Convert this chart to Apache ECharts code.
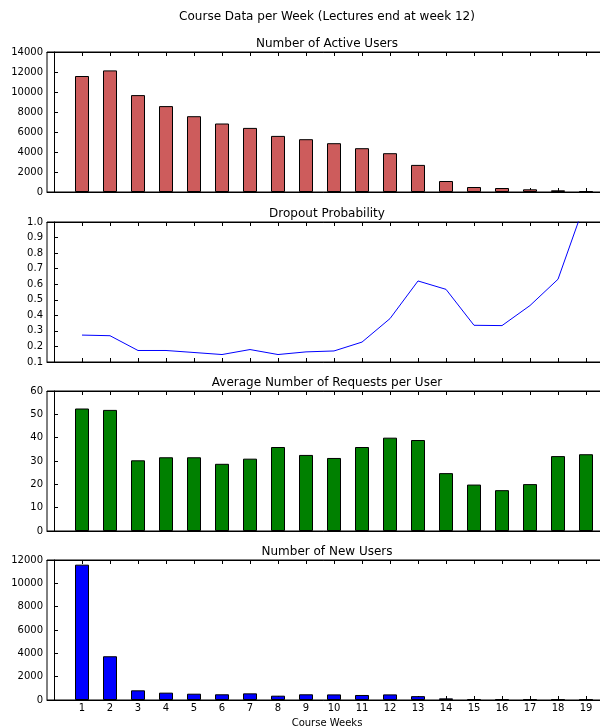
<!DOCTYPE html>
<html>
<head>
<meta charset="utf-8">
<script src="https://cdn.jsdelivr.net/npm/echarts@6/dist/echarts.min.js"></script>
<style>html,body{margin:0;padding:0;background:#fff}#c{width:600px;height:726px}</style>
</head>
<body>
<div id="c"></div>
<script>
const weeks = [1,2,3,4,5,6,7,8,9,10,11,12,13,14,15,16,17,18,19];
const activeUsers = [11600,12160,9690,8590,7580,6850,6410,5610,5280,4880,4380,3880,2710,1100,500,400,270,170,70];
const dropoutProb = [0.273,0.269,0.174,0.174,0.161,0.148,0.18,0.148,0.165,0.171,0.228,0.379,0.621,0.567,0.336,0.334,0.463,0.632,1.14];
const requestsPerUser = [52.5,51.9,30.3,31.6,31.6,28.8,31.0,36.0,32.6,31.3,36.0,40.0,39.0,24.8,19.9,17.5,20.1,32.1,32.9];
const newUsers = [11600,3750,830,630,540,490,570,370,490,480,430,480,330,140,80,60,50,50,50];
const mainTitle = 'Course Data per Week (Lectures end at week 12)';
const panelTitles = ['Number of Active Users','Dropout Probability','Average Number of Requests per User','Number of New Users'];
const xName = 'Course Weeks';

const font = 'DejaVu Sans';
const tops = [52, 222, 391, 560];
const H = 140;
const L = 47, W = 560;
const cx = L + W / 2;

const grids = tops.map(t => ({left: L, top: t, width: W, height: H, show: true, borderColor: '#000', borderWidth: 1, containLabel: false, outerBoundsMode: 'none'}));

const xAxes = [];
tops.forEach((t, i) => {
  xAxes.push({
    type: 'value', gridIndex: i, position: 'bottom', min: -0.25, max: 19.75,
    axisLine: {show: true, lineStyle: {color: '#000', width: 1}},
    axisTick: {show: true, inside: true, length: 4, customValues: weeks, lineStyle: {color: '#000'}},
    axisLabel: {show: i === 3, customValues: weeks, color: '#000', fontFamily: font, fontSize: 10, margin: 3},
    splitLine: {show: false},
    name: i === 3 ? xName : '', nameLocation: 'middle', nameGap: 18,
    nameTextStyle: {color: '#000', fontFamily: font, fontSize: 10}
  });
  xAxes.push({
    type: 'value', gridIndex: i, position: 'top', min: -0.25, max: 19.75,
    axisLine: {show: true, lineStyle: {color: '#000', width: 1}},
    axisTick: {show: true, inside: true, length: 4, customValues: weeks, lineStyle: {color: '#000'}},
    axisLabel: {show: false},
    splitLine: {show: false}
  });
});

const yCfg = [
  {min: 0, max: 14000, interval: 2000, fmt: v => String(v)},
  {min: 0.1, max: 1.0, interval: 0.1, fmt: v => v.toFixed(1)},
  {min: 0, max: 60, interval: 10, fmt: v => String(v)},
  {min: 0, max: 12000, interval: 2000, fmt: v => String(v)}
];
const yAxes = yCfg.map((c, i) => ({
  type: 'value', gridIndex: i, min: c.min, max: c.max, interval: c.interval,
  axisLine: {show: true, lineStyle: {color: '#000', width: 1}},
  axisTick: {show: true, inside: true, length: 4, lineStyle: {color: '#000'}},
  axisLabel: {show: true, color: '#000', fontFamily: font, fontSize: 10, margin: 4, formatter: c.fmt},
  splitLine: {show: false}
}));

function barSeries(idx, data, color) {
  return {
    type: 'bar', xAxisIndex: idx * 2, yAxisIndex: idx,
    data: weeks.map((w, k) => [w, data[k]]),
    barWidth: 14,
    itemStyle: {color: color, borderColor: '#000', borderWidth: 1},
    silent: true, animation: false
  };
}

const titleFont = '12px "DejaVu Sans"';
const option = {
  animation: false,
  backgroundColor: '#fff',
  grid: grids,
  xAxis: xAxes,
  yAxis: yAxes,
  graphic: [
    {type: 'text', style: {text: mainTitle, x: cx, y: 17, fill: '#000', font: titleFont, textAlign: 'center', textVerticalAlign: 'middle'}, silent: true}
  ].concat(panelTitles.map((t, i) => ({
    type: 'text', style: {text: t, x: cx, y: tops[i] - 8, fill: '#000', font: titleFont, textAlign: 'center', textVerticalAlign: 'middle'}, silent: true
  }))),
  series: [
    barSeries(0, activeUsers, '#cd5c5c'),
    {
      type: 'line', xAxisIndex: 2, yAxisIndex: 1,
      data: weeks.map((w, k) => [w, dropoutProb[k]]),
      showSymbol: false, symbol: 'none', clip: true,
      lineStyle: {color: '#0000ff', width: 1}, itemStyle: {color: '#0000ff'},
      silent: true, animation: false
    },
    barSeries(2, requestsPerUser, '#008000'),
    barSeries(3, newUsers, '#0000ff')
  ]
};

const chart = echarts.init(document.getElementById('c'), null, {renderer: 'canvas'});
chart.setOption(option);
</script>
</body>
</html>
